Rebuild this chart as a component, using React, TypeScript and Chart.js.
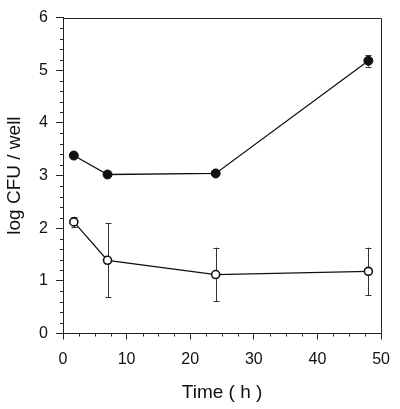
import React, { useEffect, useRef } from "react";
import { Chart, registerables } from "chart.js";

Chart.register(...registerables);

const times = [1.7, 7, 24, 48];
const filledMeans = [3.38, 3.02, 3.04, 5.18];
const filledErrors = [0.03, 0.03, 0.03, 0.11];
const openMeans = [2.12, 1.39, 1.12, 1.18];
const openErrors = [0.1, 0.7, 0.51, 0.45];
const xTickValues = [0, 10, 20, 30, 40, 50];
const yTickValues = [0, 1, 2, 3, 4, 5, 6];

const FONT = "'Liberation Sans', Arial, Helvetica, sans-serif";

const errorBarPlugin = {
  id: "errorBars",
  beforeDatasetsDraw(chart: any) {
    const { ctx, scales } = chart;
    const xs = scales.x;
    const ys = scales.y;
    const sets = [
      { means: filledMeans, errs: filledErrors },
      { means: openMeans, errs: openErrors },
    ];
    ctx.save();
    ctx.strokeStyle = "#333";
    ctx.lineWidth = 1;
    sets.forEach(({ means, errs }) => {
      times.forEach((t, i) => {
        const px = Math.round(xs.getPixelForValue(t)) + 0.5;
        const top = ys.getPixelForValue(means[i] + errs[i]);
        const bot = ys.getPixelForValue(means[i] - errs[i]);
        ctx.beginPath();
        ctx.moveTo(px, top);
        ctx.lineTo(px, bot);
        ctx.moveTo(px - 3, Math.round(top) + 0.5);
        ctx.lineTo(px + 3, Math.round(top) + 0.5);
        ctx.moveTo(px - 3, Math.round(bot) + 0.5);
        ctx.lineTo(px + 3, Math.round(bot) + 0.5);
        ctx.stroke();
      });
    });
    ctx.restore();
  },
};

const framePlugin = {
  id: "frame",
  afterDraw(chart: any) {
    const { ctx, chartArea, scales } = chart;
    const { left, right, top, bottom } = chartArea;
    ctx.save();
    ctx.strokeStyle = "#222";
    ctx.lineWidth = 1;
    ctx.beginPath();
    ctx.moveTo(left, Math.round(top) + 0.5);
    ctx.lineTo(Math.round(right) + 0.5, Math.round(top) + 0.5);
    ctx.lineTo(Math.round(right) + 0.5, bottom);
    ctx.stroke();
    // minor ticks
    ctx.beginPath();
    for (let v = 0; v <= 50.001; v += 2.5) {
      if (Math.abs(v % 10) < 1e-6) continue;
      const px = Math.round(scales.x.getPixelForValue(v)) + 0.5;
      ctx.moveTo(px, bottom);
      ctx.lineTo(px, bottom + 3);
    }
    for (let k = 0; k <= 30; k++) {
      if (k % 5 === 0) continue;
      const v = k * 0.2;
      const py = Math.round(scales.y.getPixelForValue(v)) + 0.5;
      ctx.moveTo(left, py);
      ctx.lineTo(left - 3, py);
    }
    ctx.stroke();
    ctx.restore();
  },
};

export default function App() {
  const ref = useRef<HTMLCanvasElement | null>(null);
  useEffect(() => {
    if (!ref.current) return;
    const chart = new Chart(ref.current, {
      type: "line",
      data: {
        datasets: [
          {
            label: "filled",
            data: times.map((t, i) => ({ x: t, y: filledMeans[i] })),
            borderColor: "#111",
            borderWidth: 1.3,
            pointRadius: 4.5,
            pointBackgroundColor: "#111",
            pointBorderColor: "#111",
            pointBorderWidth: 1,
            tension: 0,
          },
          {
            label: "open",
            data: times.map((t, i) => ({ x: t, y: openMeans[i] })),
            borderColor: "#111",
            borderWidth: 1.3,
            pointRadius: 4,
            pointBackgroundColor: "#fff",
            pointBorderColor: "#111",
            pointBorderWidth: 1.6,
            tension: 0,
          },
        ],
      },
      options: {
        animation: false,
        responsive: false,
        devicePixelRatio: 1,
        layout: { padding: { top: 8, right: 14, left: 0, bottom: 0 } },
        plugins: { legend: { display: false }, tooltip: { enabled: false } },
        scales: {
          x: {
            type: "linear",
            min: 0,
            max: 50,
            afterBuildTicks: (s: any) => {
              s.ticks = xTickValues.map((v) => ({ value: v }));
            },
            afterFit: (s: any) => {
              s.height = 75.5;
            },
            grid: {
              drawOnChartArea: false,
              drawTicks: true,
              tickLength: 6,
              color: "#222",
            },
            border: { display: true, color: "#222", width: 1 },
            ticks: {
              padding: 10,
              color: "#111",
              font: { family: FONT, size: 16 },
              maxRotation: 0,
            },
            title: {
              display: true,
              text: "Time ( h )",
              color: "#111",
              font: { family: FONT, size: 19 },
              padding: { top: 0, bottom: 5 },
            },
          },
          y: {
            type: "linear",
            min: 0,
            max: 6,
            afterBuildTicks: (s: any) => {
              s.ticks = yTickValues.map((v) => ({ value: v }));
            },
            afterFit: (s: any) => {
              s.width = 63;
            },
            grid: {
              drawOnChartArea: false,
              drawTicks: true,
              tickLength: 7,
              color: "#222",
            },
            border: { display: true, color: "#222", width: 1 },
            ticks: {
              padding: 8,
              color: "#111",
              font: { family: FONT, size: 16 },
            },
            title: {
              display: true,
              text: "log CFU / well",
              color: "#111",
              font: { family: FONT, size: 19 },
              padding: { top: 3, bottom: 0 },
            },
          },
        },
      },
      plugins: [errorBarPlugin, framePlugin],
    } as any);
    return () => chart.destroy();
  }, []);
  return (
    <div style={{ position: "fixed", left: 0, top: 0, width: 400, height: 409, background: "#fff" }}>
      <canvas ref={ref} width={400} height={409} style={{ width: 400, height: 409 }} />
    </div>
  );
}
